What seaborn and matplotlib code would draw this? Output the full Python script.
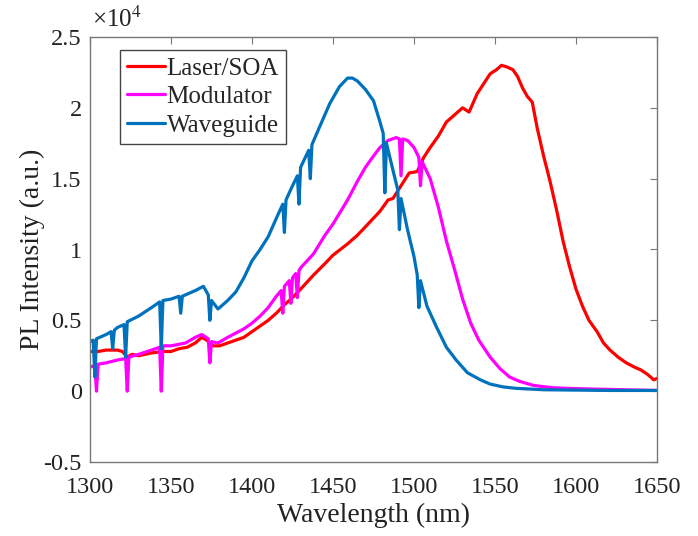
import matplotlib
matplotlib.use("Agg")
import matplotlib.pyplot as plt
import seaborn as sns
import pandas as pd
from matplotlib.ticker import FuncFormatter

# ---- data (intensity in units of 1e4 a.u.) ----
laser_wl = [1300, 1305, 1310, 1317, 1320, 1323, 1326, 1330, 1338, 1345, 1350, 1355, 1360,
            1365, 1369, 1372, 1376, 1380, 1385, 1390, 1395, 1400, 1405, 1410, 1415, 1420,
            1425, 1430, 1438, 1445, 1450, 1459, 1465, 1470, 1479, 1484, 1487, 1492, 1497,
            1502, 1506, 1510, 1515, 1520, 1525, 1530, 1534, 1539, 1543, 1547, 1551, 1554,
            1557, 1561, 1564, 1567, 1570, 1573, 1576, 1580, 1584, 1588, 1592, 1596, 1600,
            1604, 1608, 1613, 1617, 1621, 1626, 1631, 1636, 1640, 1644, 1648, 1650]
laser_val = [0.28, 0.28, 0.29, 0.29, 0.28, 0.24, 0.26, 0.25, 0.27, 0.28, 0.28, 0.30, 0.31,
             0.34, 0.38, 0.36, 0.32, 0.32, 0.34, 0.36, 0.38, 0.42, 0.46, 0.50, 0.55, 0.61,
             0.66, 0.72, 0.82, 0.90, 0.96, 1.04, 1.10, 1.16, 1.27, 1.35, 1.36, 1.45, 1.54,
             1.55, 1.65, 1.72, 1.80, 1.90, 1.95, 2.00, 1.97, 2.10, 2.17, 2.24, 2.27, 2.30,
             2.29, 2.27, 2.22, 2.14, 2.08, 2.04, 1.86, 1.66, 1.48, 1.28, 1.06, 0.88, 0.72,
             0.60, 0.50, 0.42, 0.34, 0.29, 0.24, 0.20, 0.17, 0.15, 0.12, 0.08, 0.09]

mod_wl = [1300, 1303, 1304, 1305, 1310, 1317, 1322, 1323, 1324, 1330, 1338, 1343, 1344,
          1345, 1350, 1359, 1365, 1369, 1373, 1374, 1375, 1379, 1385, 1390, 1395, 1400,
          1405, 1410, 1415, 1418, 1419, 1420, 1423, 1424, 1425, 1427, 1428, 1429, 1430,
          1438, 1445, 1450, 1459, 1465, 1470, 1475, 1479, 1484, 1489, 1491, 1492, 1493,
          1496, 1500, 1503, 1504, 1505, 1510, 1515, 1520, 1525, 1530, 1535, 1540, 1547,
          1553, 1559, 1565, 1574, 1585, 1594, 1610, 1630, 1650]
mod_val = [0.17, 0.18, 0.00, 0.19, 0.20, 0.22, 0.23, 0.00, 0.24, 0.26, 0.29, 0.31, 0.00,
           0.32, 0.32, 0.34, 0.38, 0.40, 0.37, 0.20, 0.35, 0.34, 0.38, 0.41, 0.44, 0.48,
           0.53, 0.59, 0.67, 0.71, 0.55, 0.74, 0.78, 0.62, 0.80, 0.83, 0.66, 0.85, 0.87,
           0.97, 1.10, 1.18, 1.35, 1.48, 1.58, 1.66, 1.72, 1.77, 1.79, 1.78, 1.52, 1.78,
           1.77, 1.72, 1.65, 1.45, 1.62, 1.50, 1.30, 1.06, 0.86, 0.65, 0.48, 0.36, 0.24,
           0.16, 0.10, 0.07, 0.04, 0.025, 0.02, 0.015, 0.01, 0.005]

wg_wl = [1300, 1302, 1303, 1304, 1310, 1313, 1314, 1315, 1317, 1321, 1322, 1323, 1330,
         1338, 1343, 1344, 1345, 1350, 1355, 1356, 1357, 1359, 1365, 1370, 1373, 1374,
         1375, 1379, 1385, 1390, 1395, 1400, 1405, 1410, 1415, 1419, 1420, 1421, 1425,
         1428, 1429, 1430, 1435, 1436, 1437, 1440, 1448, 1454, 1459, 1462, 1465, 1470,
         1475, 1479, 1481, 1482, 1483, 1487, 1490, 1491, 1492, 1496, 1500, 1502, 1503,
         1504, 1508, 1514, 1520, 1526, 1533, 1541, 1547, 1555, 1563, 1580, 1620, 1650]
wg_val = [0.35, 0.36, 0.10, 0.37, 0.40, 0.42, 0.30, 0.43, 0.45, 0.47, 0.24, 0.49, 0.53,
          0.59, 0.63, 0.30, 0.64, 0.65, 0.67, 0.55, 0.67, 0.68, 0.71, 0.74, 0.68, 0.50,
          0.64, 0.58, 0.64, 0.70, 0.80, 0.92, 1.00, 1.09, 1.22, 1.32, 1.12, 1.35, 1.45,
          1.52, 1.32, 1.58, 1.70, 1.50, 1.74, 1.82, 2.03, 2.15, 2.21, 2.21, 2.19, 2.13,
          2.05, 1.90, 1.82, 1.40, 1.75, 1.56, 1.42, 1.14, 1.36, 1.14, 0.95, 0.82, 0.59,
          0.78, 0.60, 0.45, 0.31, 0.22, 0.13, 0.08, 0.05, 0.03, 0.02, 0.01, 0.005, 0.005]

series_names = ["Laser/SOA", "Modulator", "Waveguide"]
series_colors = ["#FF0000", "#FF00FF", "#0072BD"]
x_ticks = [1300, 1350, 1400, 1450, 1500, 1550, 1600, 1650]
y_ticks = [-0.5, 0, 0.5, 1, 1.5, 2, 2.5]

df = pd.concat([
    pd.DataFrame({"wl": laser_wl, "val": [v * 1e4 for v in laser_val], "s": series_names[0]}),
    pd.DataFrame({"wl": mod_wl, "val": [v * 1e4 for v in mod_val], "s": series_names[1]}),
    pd.DataFrame({"wl": wg_wl, "val": [v * 1e4 for v in wg_val], "s": series_names[2]}),
], ignore_index=True)

sns.set_style("white")
plt.rcParams["font.family"] = ["Liberation Serif", "DejaVu Serif"]
plt.rcParams["mathtext.fontset"] = "stix"
plt.rcParams["axes.unicode_minus"] = False

fig = plt.figure(figsize=(6.98, 5.36), dpi=100)
ax = fig.add_axes([90 / 698, 1 - 462 / 536, 567 / 698, 425 / 536])

for name, col in zip(series_names, series_colors):
    sub = df[df["s"] == name]
    sns.lineplot(x=sub["wl"].to_numpy(), y=sub["val"].to_numpy(), ax=ax, color=col,
                 linewidth=2.3, label=name, estimator=None, sort=False)

ax.set_xlim(1300, 1650)
ax.set_ylim(-0.5e4, 2.5e4)
ax.set_xticks(x_ticks)
ax.set_yticks([t * 1e4 for t in y_ticks])
ax.yaxis.set_major_formatter(FuncFormatter(lambda v, p: "%g" % (v / 1e4)))
ax.tick_params(direction="in", length=5, width=0.8, top=True, right=True,
               labelsize=17.5, colors="#777777", labelcolor="#222222")
ax.tick_params(axis="x", pad=11)
ax.tick_params(axis="y", pad=6)
for sp in ax.spines.values():
    sp.set_color("#777777")
    sp.set_linewidth(1.0)

ax.set_xlabel("Wavelength (nm)", fontsize=20, color="#222222", labelpad=3)
ax.set_ylabel("PL Intensity (a.u.)", fontsize=20, color="#222222", labelpad=-1)
ax.text(0.003, 1.012, r"×10$^{4}$", transform=ax.transAxes, fontsize=18,
        color="#222222", ha="left", va="bottom")

leg = ax.legend(loc="upper left", bbox_to_anchor=(0.053, 0.969), borderaxespad=0,
                fancybox=False, edgecolor="#444444", fontsize=18, handlelength=1.5,
                handletextpad=0.08, borderpad=0.28, labelspacing=0.24, framealpha=1)
leg.get_frame().set_linewidth(1.0)

fig.savefig("out.png", dpi=100)
